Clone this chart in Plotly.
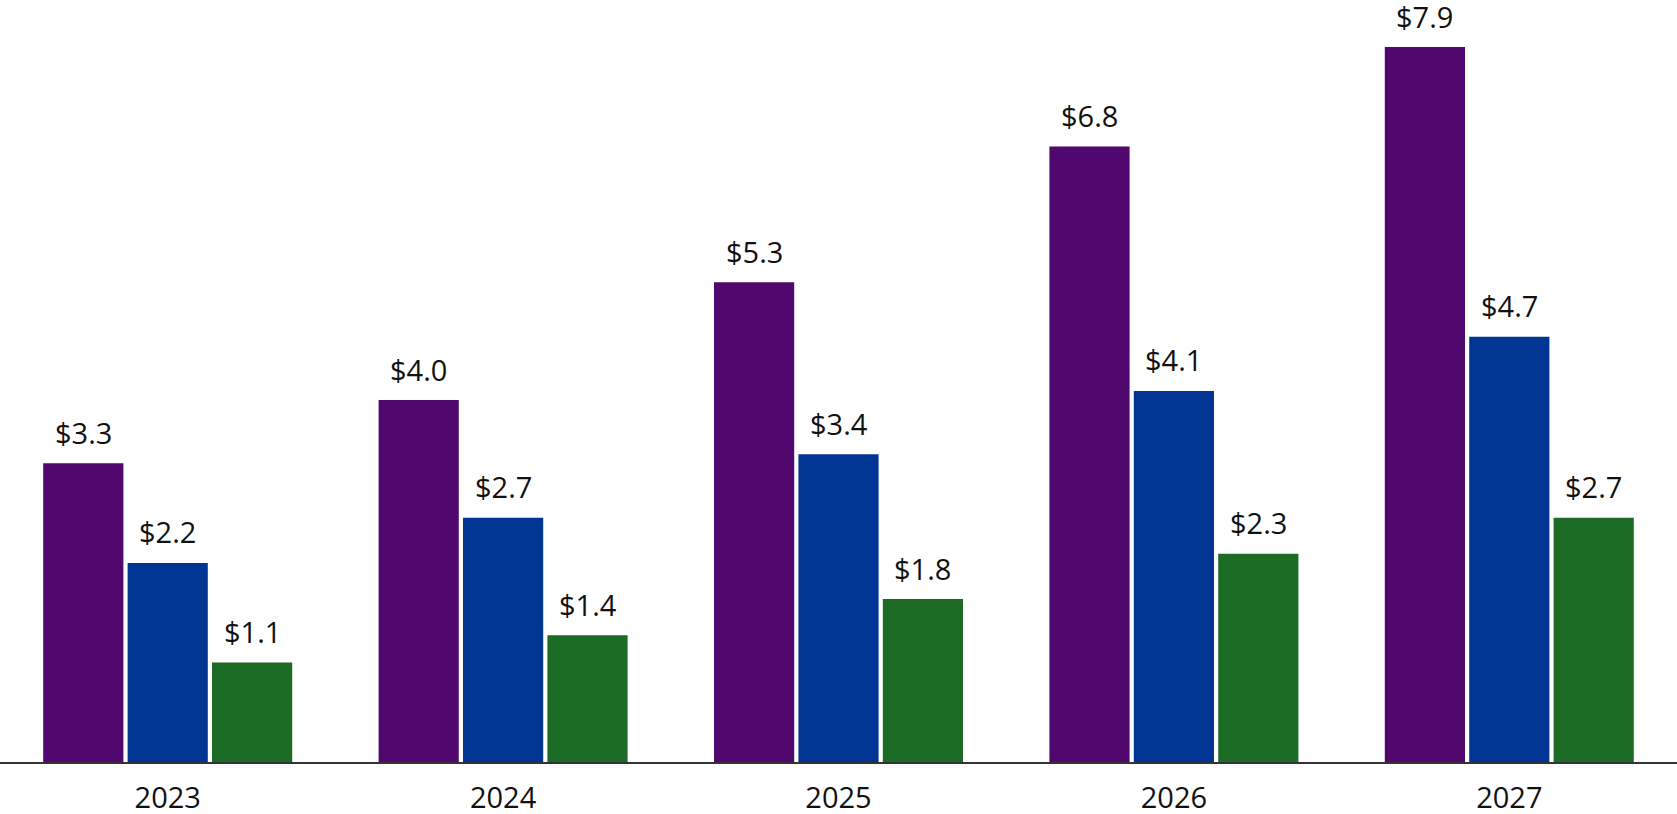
import plotly.graph_objects as go

years = ["2023", "2024", "2025", "2026", "2027"]
series_a = [3.3, 4.0, 5.3, 6.8, 7.9]
series_b = [2.2, 2.7, 3.4, 4.1, 4.7]
series_c = [1.1, 1.4, 1.8, 2.3, 2.7]
colors = ["#50076E", "#003594", "#1B6B24"]

W, H = 1677, 814
M_B = 52
BARGAP = 0.245
GROUPGAP = 0.05
YMAX = 8.42
FONT = "Open Sans"

fig = go.Figure()
all_series = [series_a, series_b, series_c]
for vals, col in zip(all_series, colors):
    fig.add_trace(go.Bar(x=years, y=vals, marker=dict(color=col, line=dict(width=0)),
                         hoverinfo="skip", showlegend=False))

cat_px = W / len(years)
slot_px = cat_px * (1 - BARGAP) / len(all_series)
annotations = []
for j, vals in enumerate(all_series):
    for i, v in enumerate(vals):
        annotations.append(dict(
            x=i, y=v, xref="x", yref="y", text=f"${v:.1f}", showarrow=False,
            xshift=(j - 1) * slot_px, yshift=31, yanchor="middle", xanchor="center",
            font=dict(family=FONT, size=29, color="#111111")))

fig.update_layout(
    width=W, height=H,
    margin=dict(l=0, r=0, t=0, b=M_B),
    barmode="group", bargap=BARGAP, bargroupgap=GROUPGAP,
    plot_bgcolor="white", paper_bgcolor="white",
    annotations=annotations,
    xaxis=dict(type="category", range=[-0.5, len(years) - 0.5], autorange=False,
               automargin=False,
               showline=True, linecolor="#333333", linewidth=2,
               showgrid=False, ticks="", ticklabelstandoff=9,
               tickfont=dict(family=FONT, size=29, color="#111111")),
    yaxis=dict(range=[0, YMAX], autorange=False, visible=False, showgrid=False,
               zeroline=False, automargin=False),
)

fig.write_html("out.html", config={"displayModeBar": False},
               post_script="document.body.style.margin='0';document.body.style.overflow='hidden';")
